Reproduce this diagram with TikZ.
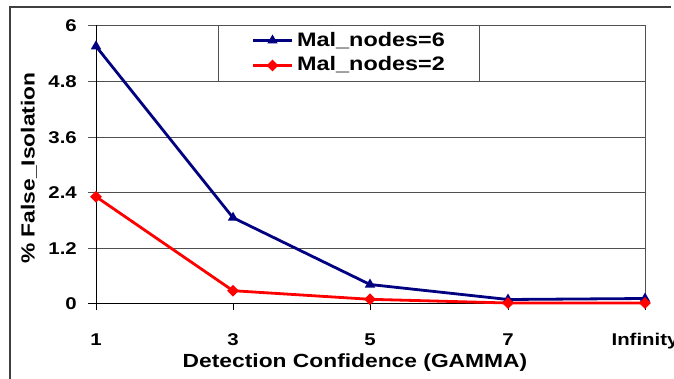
\documentclass[tikz,border=0pt]{standalone}
\usepackage{fontspec}
\setmainfont{Liberation Sans}
\newfontfamily\chartfont{Liberation Sans}[FakeStretch=1.2]
\usetikzlibrary{shapes.geometric}
\definecolor{navyline}{RGB}{0,0,128}
\definecolor{redline}{RGB}{255,0,0}
\definecolor{framegray}{RGB}{64,64,64}
\definecolor{gridgray}{RGB}{80,80,80}

\begin{document}
\begin{tikzpicture}[x=1pt,y=-1pt,
  outerframe/.style={draw=framegray,line width=1.3pt},
  gridline/.style={draw=gridgray,line width=0.8pt},
  axisline/.style={draw=black,line width=0.9pt},
  ticklab/.style={font=\chartfont\bfseries\fontsize{17}{20}\selectfont,inner sep=0pt},
  titlelab/.style={font=\chartfont\bfseries\fontsize{19}{22}\selectfont,inner sep=0pt},
  legendlab/.style={font=\chartfont\bfseries\fontsize{19.5}{22}\selectfont,inner sep=0pt,anchor=base west},
  seriesA/.style={draw=navyline,line width=2.8pt,line join=round},
  seriesB/.style={draw=redline,line width=2.8pt,line join=round},
  markA/.style={regular polygon,regular polygon sides=3,fill=navyline,inner sep=0pt,minimum size=12pt},
  markB/.style={diamond,fill=redline,inner sep=0pt,minimum size=12pt}]

\useasboundingbox (0,0) rectangle (674,379);

% outer chart frame
\draw[outerframe] (10,379) -- (10,7) -- (671,7);

% plot area: horizontal grid lines with left ticks, right border
\foreach \yy in {25,81,137,192,248}
  \draw[gridline] (88,\yy) -- (645,\yy);
\draw[gridline] (645,25) -- (645,303);

% y axis tick labels
\foreach \yy/\lab in {25/6,81/4.8,137/3.6,192/2.4,248/1.2,303/0}
  \node[ticklab,anchor=base east] at (77,\yy+6.5) {\lab};

% axes
\draw[axisline] (96,25) -- (96,303);
\draw[axisline] (88,303) -- (645,303);
\foreach \xx in {96,233,370,508,645}
  \draw[axisline] (\xx,303) -- (\xx,310);

% x axis tick labels
\node[ticklab,anchor=base] (c1) at (96,345) {1};
\node[ticklab,anchor=base] (c3) at (233,345) {3};
\node[ticklab,anchor=base] (c5) at (370,345) {5};
\node[ticklab,anchor=base] (c7) at (508,345) {7};
\node[ticklab,anchor=base] (cinf) at (645,345) {Infinity};

% axis titles
\node[titlelab,anchor=base] (xtitle) at (355,367.5) {Detection Confidence (GAMMA)};
\node[titlelab,anchor=base,rotate=90] (ytitle) at (34.5,168) {\% False\_Isolation};

% data points
\coordinate (a1) at (96,46.3);
\coordinate (a3) at (233,217.7);
\coordinate (a5) at (370,284.5);
\coordinate (a7) at (508,299.5);
\coordinate (ai) at (645,298.5);
\coordinate (b1) at (96,196.7);
\coordinate (b3) at (233,290.7);
\coordinate (b5) at (370,299.3);
\coordinate (b7) at (508,303);
\coordinate (bi) at (645,303);

% legend box
\draw[gridline,fill=white] (218,25) rectangle (479,81);

% Mal_nodes=2 series
\draw[seriesB] (b1) -- (b3) -- (b5) -- (b7) -- (bi);
% Mal_nodes=6 series
\draw[seriesA] (a1) -- (a3) -- (a5) -- (a7) -- (ai);
\foreach \p in {a1,a3,a5,a7,ai}
  \node[markA] at (\p) {};
\foreach \p in {b1,b3,b5,b7,bi}
  \node[markB] at (\p) {};

% legend entries
\coordinate (la0) at (253,40.5);
\coordinate (la1) at (292,40.5);
\coordinate (lb0) at (253,65.5);
\coordinate (lb1) at (292,65.5);
\draw[seriesA] (la0) -- (la1);
\node[markA] at (272.5,40.5) {};
\draw[seriesB] (lb0) -- (lb1);
\node[markB] at (272.5,65.5) {};
\node[legendlab] (la) at (297,47) {Mal\_nodes=6};
\node[legendlab] (lb) at (297,70.7) {Mal\_nodes=2};

\end{tikzpicture}
\end{document}
